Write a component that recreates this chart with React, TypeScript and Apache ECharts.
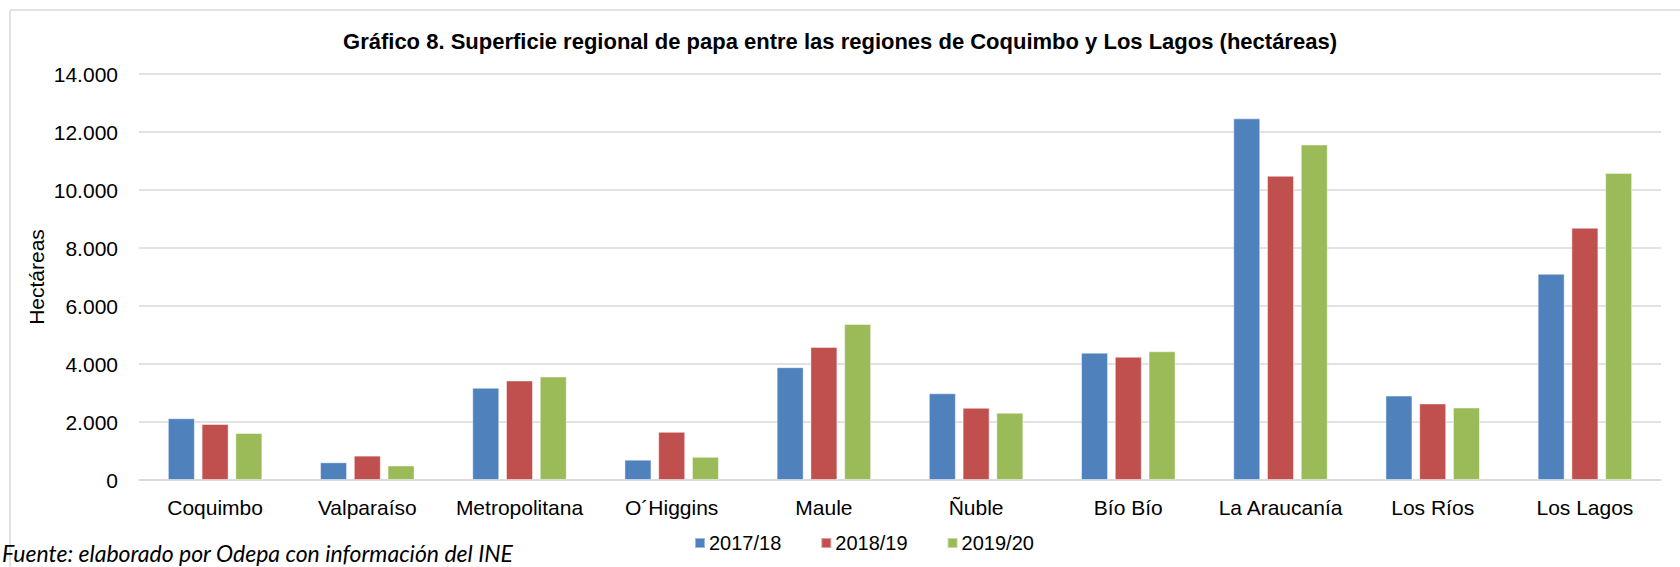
import React, { useEffect, useRef } from "react";
import * as echarts from "echarts";

const categories = [
  "Coquimbo",
  "Valparaíso",
  "Metropolitana",
  "O´Higgins",
  "Maule",
  "Ñuble",
  "Bío Bío",
  "La Araucanía",
  "Los Ríos",
  "Los Lagos",
];

const seriesNames = ["2017/18", "2018/19", "2019/20"];
const values2017 = [2130, 610, 3180, 700, 3890, 2990, 4390, 12470, 2910, 7110];
const values2018 = [1930, 840, 3430, 1660, 4590, 2490, 4250, 10490, 2640, 8700];
const values2019 = [1620, 500, 3570, 800, 5380, 2320, 4440, 11570, 2500, 10590];
const colors = ["#4F81BD", "#C0504D", "#9BBB59"];

const yMin = 0;
const yMax = 14000;
const yInterval = 2000;

const titleText =
  "Gráfico 8. Superficie regional de papa entre las regiones de Coquimbo y Los Lagos (hectáreas)";
const yAxisName = "Hectáreas";
const sourceText = "Fuente: elaborado por Odepa con información del INE";

function fmt(v: number): string {
  return String(Math.round(v)).replace(/\B(?=(\d{3})+(?!\d))/g, ".");
}

export default function App() {
  const ref = useRef<HTMLDivElement>(null);

  useEffect(() => {
    document.body.style.margin = "0";
    if (!ref.current) return;
    const chart = echarts.init(ref.current, null, { renderer: "svg" });
    const data = [values2017, values2018, values2019];
    const font = "Liberation Sans";
    chart.setOption({
      animation: false,
      backgroundColor: "#ffffff",
      textStyle: { fontFamily: font },
      title: {
        text: titleText,
        left: "center",
        top: 29,
        padding: 0,
        textStyle: {
          fontFamily: font,
          fontSize: 22,
          fontWeight: "bold",
          color: "#000",
          lineHeight: 24,
        },
      },
      legend: {
        data: seriesNames,
        left: 694,
        top: 533,
        padding: 0,
        itemWidth: 10,
        itemHeight: 10,
        itemGap: 39,
        icon: "rect",
        textStyle: { fontFamily: font, fontSize: 20, color: "#000", padding: [0, 0, 0, -1] },
      },
      grid: { left: 139, right: 19, top: 74, bottom: 87, containLabel: false },
      xAxis: {
        type: "category",
        data: categories,
        axisTick: { show: false },
        axisLine: { show: true, lineStyle: { color: "#D9D9D9", width: 1.5 } },
        axisLabel: { fontFamily: font, fontSize: 21, color: "#000", margin: 17, interval: 0 },
      },
      yAxis: {
        type: "value",
        min: yMin,
        max: yMax,
        interval: yInterval,
        axisLine: { show: false },
        axisTick: { show: false },
        splitLine: { lineStyle: { color: "#D9D9D9", width: 1.5 } },
        axisLabel: {
          fontFamily: font,
          fontSize: 21,
          color: "#000",
          margin: 21,
          formatter: (v: number) => fmt(v),
        },
      },
      series: seriesNames.map((name, i) => ({
        name,
        type: "bar",
        data: data[i],
        barWidth: 27,
        barGap: "25%",
        itemStyle: {
          color: colors[i],
          borderColor: "rgba(255,255,255,0.45)",
          borderWidth: 1,
        },
      })),
      graphic: [
        {
          type: "line",
          shape: { x1: 10, y1: 10, x2: 1680, y2: 10 },
          style: { stroke: "#D9D9D9", lineWidth: 1.5 },
          silent: true,
        },
        {
          type: "line",
          shape: { x1: 10, y1: 10, x2: 10, y2: 567 },
          style: { stroke: "#D9D9D9", lineWidth: 1.5 },
          silent: true,
        },
        {
          type: "text",
          x: 36,
          y: 277,
          rotation: Math.PI / 2,
          style: {
            text: yAxisName,
            fontFamily: font,
            fontSize: 21,
            fill: "#000",
            textAlign: "center",
            textVerticalAlign: "middle",
          },
        },
        {
          type: "text",
          x: 2,
          y: 553,
          style: {
            text: sourceText,
            fontFamily: "Lato",
            fontStyle: "italic",
            fontSize: 23,
            fill: "#000",
            textAlign: "left",
            textVerticalAlign: "middle",
          },
        },
      ],
    });
    return () => chart.dispose();
  }, []);

  return (
    <div
      ref={ref}
      style={{ width: 1680, height: 567, position: "absolute", left: 0, top: 0 }}
    />
  );
}
